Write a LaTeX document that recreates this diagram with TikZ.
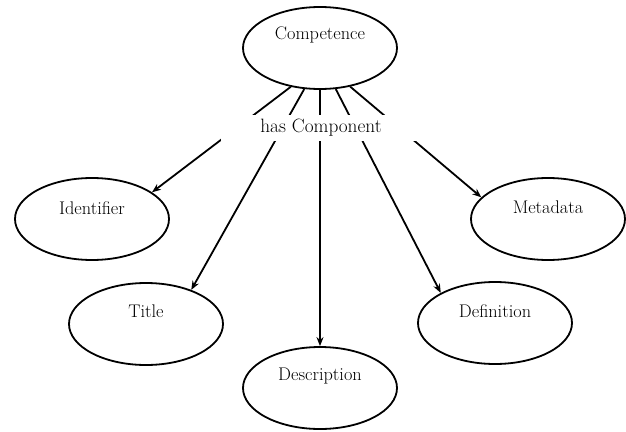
\documentclass[tikz,border=0pt]{standalone}
\usetikzlibrary{shapes.geometric,arrows.meta}
\begin{document}
\begin{tikzpicture}[x=1pt,y=-1pt,
  blob/.style={ellipse,draw,line width=1.8pt,minimum width=154pt,minimum height=82pt,inner sep=0pt},
  txt/.style={font=\fontsize{18.3}{20}\selectfont,inner sep=0pt},
  conn/.style={line width=1.8pt,-{Stealth[length=9pt,width=7pt]}},
  tag/.style={fill=white,font=\fontsize{19.3}{21}\selectfont,minimum width=200pt,minimum height=26pt,inner sep=0pt}]
\useasboundingbox (0,0) rectangle (626,431);
\node[blob] (comp) at (320,48) {};
\node[txt] (tcomp) at ([yshift=13pt]comp.center) {Competence};
\node[blob] (ident) at (92,219) {};
\node[txt] (tident) at ([yshift=11pt]ident.center) {Identifier};
\node[blob] (title) at (146,324) {};
\node[txt] (ttitle) at ([yshift=13pt]title.center) {Title};
\node[blob] (desc) at (320,388) {};
\node[txt] (tdesc) at ([yshift=12pt]desc.center) {Description};
\node[blob] (defi) at (495,323) {};
\node[txt] (tdefi) at ([yshift=12pt]defi.center) {Definition};
\node[blob] (meta) at (548,219) {};
\node[txt] (tmeta) at ([yshift=12pt]meta.center) {Metadata};
\draw[conn] (comp.233) -- (ident.24);
\draw[conn] (comp.249) -- (title.37.5);
\draw[conn] (comp.270) -- (desc.90);
\draw[conn] (comp.291) -- (defi.151.4);
\draw[conn] (comp.308.7) -- (meta.162.6);
\node[tag] (hc) at (321,128) {has Component};
\end{tikzpicture}
\end{document}
